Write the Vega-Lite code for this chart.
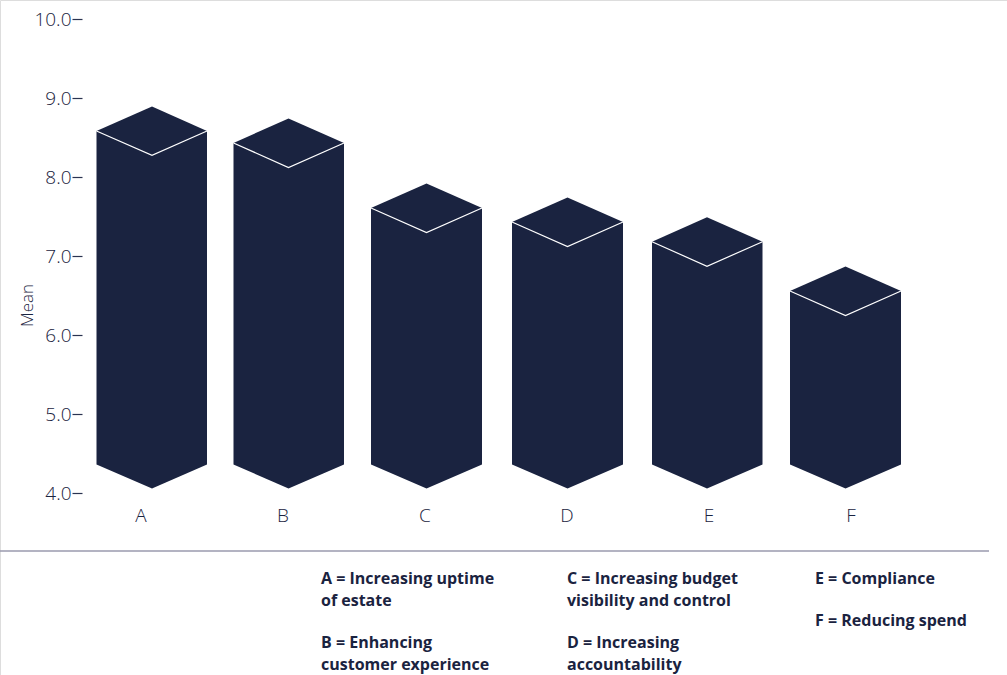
{
  "$schema": "https://vega.github.io/schema/vega-lite/v6.json",
  "width": 1007,
  "height": 675,
  "padding": 0,
  "autosize": {"type": "none"},
  "background": "white",
  "datasets": {
    "columns": [
      {"bar": "A", "x": 96.5, "top": 8.589, "edge": 8.589, "base": 4.367},
      {"bar": "A", "x": 152, "top": 8.9, "edge": 8.28, "base": 4.063},
      {"bar": "A", "x": 207, "top": 8.589, "edge": 8.589, "base": 4.367},
      {"bar": "B", "x": 233.5, "top": 8.437, "edge": 8.437, "base": 4.367},
      {"bar": "B", "x": 288.5, "top": 8.748, "edge": 8.126, "base": 4.063},
      {"bar": "B", "x": 344, "top": 8.437, "edge": 8.437, "base": 4.367},
      {"bar": "C", "x": 371, "top": 7.614, "edge": 7.614, "base": 4.367},
      {"bar": "C", "x": 426.5, "top": 7.925, "edge": 7.303, "base": 4.063},
      {"bar": "C", "x": 482, "top": 7.614, "edge": 7.614, "base": 4.367},
      {"bar": "D", "x": 512, "top": 7.437, "edge": 7.437, "base": 4.367},
      {"bar": "D", "x": 567.5, "top": 7.748, "edge": 7.126, "base": 4.063},
      {"bar": "D", "x": 623, "top": 7.437, "edge": 7.437, "base": 4.367},
      {"bar": "E", "x": 652, "top": 7.187, "edge": 7.187, "base": 4.367},
      {"bar": "E", "x": 707, "top": 7.498, "edge": 6.876, "base": 4.063},
      {"bar": "E", "x": 762.5, "top": 7.187, "edge": 7.187, "base": 4.367},
      {"bar": "F", "x": 790, "top": 6.563, "edge": 6.563, "base": 4.367},
      {"bar": "F", "x": 845.5, "top": 6.874, "edge": 6.252, "base": 4.063},
      {"bar": "F", "x": 901, "top": 6.563, "edge": 6.563, "base": 4.367}
    ],
    "categories": [
      {"bar": "A", "x": 141, "y": 3.715},
      {"bar": "B", "x": 283, "y": 3.715},
      {"bar": "C", "x": 425, "y": 3.715},
      {"bar": "D", "x": 567, "y": 3.715},
      {"bar": "E", "x": 709, "y": 3.715},
      {"bar": "F", "x": 851, "y": 3.715}
    ],
    "key": [
      {"text": "A = Increasing uptime\nof estate", "x": 321, "y": 2.854},
      {"text": "B = Enhancing\ncustomer experience", "x": 321, "y": 2.044},
      {"text": "C = Increasing budget\nvisibility and control", "x": 567, "y": 2.854},
      {"text": "D = Increasing\naccountability", "x": 567, "y": 2.044},
      {"text": "E = Compliance", "x": 815, "y": 2.854},
      {"text": "F = Reducing spend", "x": 815, "y": 2.323}
    ],
    "divider": [{"x": 0, "x2": 989, "y": 3.272}]
  },
  "layer": [
    {
      "data": {"name": "columns"},
      "mark": {"type": "area", "color": "#1a2340", "clip": false},
      "encoding": {
        "x": {"field": "x", "type": "quantitative", "scale": {"domain": [0, 1007], "nice": false, "zero": false}, "axis": null},
        "y": {
          "field": "top",
          "type": "quantitative",
          "scale": {"domain": [1.7025, 10.2468], "nice": false, "zero": false},
          "axis": {
            "values": [4, 5, 6, 7, 8, 9, 10],
            "offset": -82,
            "domain": false,
            "grid": false,
            "tickSize": 10,
            "tickWidth": 1.2,
            "tickColor": "#2a3350",
            "labelPadding": 1,
            "labelFont": "Open Sans",
            "labelFontWeight": 300,
            "labelFontSize": 19,
            "labelColor": "#1a2340",
            "title": "Mean",
            "titleFont": "Open Sans",
            "titleFontWeight": 300,
            "titleFontSize": 17,
            "titleColor": "#1a2340",
            "titleX": -55,
            "titleY": 305,
            "titleAngle": -90,
            "titleAlign": "center",
            "titleBaseline": "middle"
          }
        },
        "y2": {"field": "base"},
        "detail": {"field": "bar"}
      }
    },
    {
      "data": {"name": "columns"},
      "mark": {"type": "line", "color": "white", "strokeWidth": 1.2},
      "encoding": {
        "x": {"field": "x", "type": "quantitative"},
        "y": {"field": "edge", "type": "quantitative"},
        "detail": {"field": "bar"}
      }
    },
    {
      "data": {"name": "categories"},
      "mark": {"type": "text", "font": "Open Sans", "fontWeight": 300, "fontSize": 19, "color": "#1a2340", "align": "center", "baseline": "middle"},
      "encoding": {
        "x": {"field": "x", "type": "quantitative"},
        "y": {"field": "y", "type": "quantitative"},
        "text": {"field": "bar"}
      }
    },
    {
      "data": {"name": "divider"},
      "mark": {"type": "rule", "color": "#9a9aae", "strokeWidth": 1.6},
      "encoding": {
        "x": {"field": "x", "type": "quantitative"},
        "x2": {"field": "x2"},
        "y": {"field": "y", "type": "quantitative"}
      }
    },
    {
      "data": {"name": "key"},
      "mark": {"type": "text", "font": "Open Sans", "fontWeight": 700, "fontSize": 16, "color": "#1a2340", "align": "left", "baseline": "alphabetic", "lineBreak": "\n", "lineHeight": 22},
      "encoding": {
        "x": {"field": "x", "type": "quantitative"},
        "y": {"field": "y", "type": "quantitative"},
        "text": {"field": "text"}
      }
    }
  ]
}
